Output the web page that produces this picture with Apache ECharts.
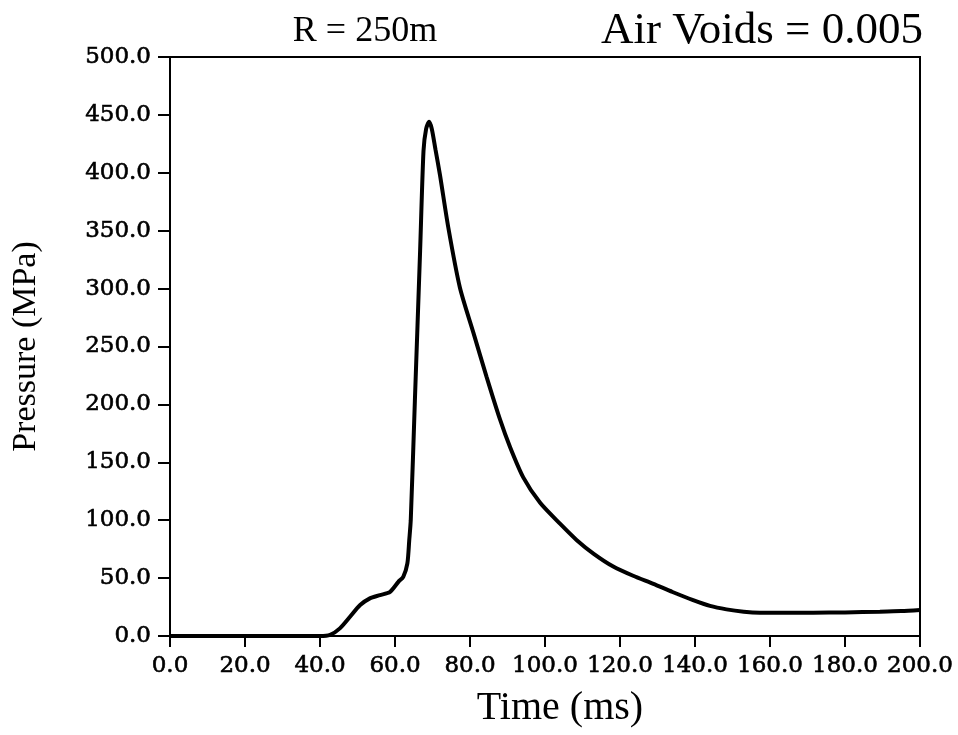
<!DOCTYPE html>
<html>
<head>
<meta charset="utf-8">
<script src="https://cdn.jsdelivr.net/npm/echarts@6/dist/echarts.min.js"></script>
<style>
html,body{margin:0;padding:0;background:#fff;}
#chart{width:958px;height:735px;}
</style>
</head>
<body>
<div id="chart"></div>
<script>
const timeMs = [0,10,20,30,40,42.7,45.3,48,50.7,53.3,56,58.7,60.9,62.2,63.3,63.8,64.2,65.3,66.7,67.6,68.3,69.1,69.8,70.8,72,74.2,77.3,80.9,84.4,88,90.7,94.2,98.7,104,108.4,113,118.2,123.5,128.9,134,139.5,144,148.4,153,157.3,165,171.5,180,189.3,195,200];
const pressureMPa = [0,0,0,0,0,1,6.6,16.6,26.7,32.5,35.3,38.2,46.8,51.1,62.7,82.8,100,203,333,419,438,444,438,420,398,353,301,262,224,187,163,137,115,97,83,71,60,52,45,38,31,26,23,21,20.1,20,20.1,20.4,21,21.5,22.4];
const titleLeft = 'R = 250m';
const titleRight = 'Air Voids = 0.005';
const xTitle = 'Time (ms)';
const yTitle = 'Pressure (MPa)';

const tfont = 'Liberation Serif';
const lfont = 'DejaVu Serif';
const chart = echarts.init(document.getElementById('chart'), null, {renderer:'canvas'});
chart.setOption({
  animation:false,
  backgroundColor:'#fff',
  title:[
    {text:titleLeft, left:360, top:9, textAlign:'center',
     textStyle:{fontFamily:tfont, fontSize:36, fontWeight:'normal', color:'#000'}},
    {text:titleRight, right:30, top:4,
     textStyle:{fontFamily:tfont, fontSize:45, fontWeight:'normal', color:'#000'}}
  ],
  grid:{left:170, right:38, top:57, bottom:99, show:true, borderColor:'#000', borderWidth:2, backgroundColor:'transparent'},
  xAxis:{
    type:'value', min:0, max:200, interval:20,
    name:xTitle, nameLocation:'middle', nameGap:52,
    nameTextStyle:{fontFamily:tfont, fontSize:40, color:'#000', padding:[0,0,0,30]},
    axisLine:{show:true, lineStyle:{color:'#000', width:2}},
    axisTick:{show:true, inside:false, length:11, lineStyle:{color:'#000', width:2}},
    axisLabel:{fontFamily:lfont, fontSize:23, color:'#000', margin:19,
      textBorderColor:'#000', textBorderWidth:0.6,
      formatter:v=>v.toFixed(1)},
    splitLine:{show:false}
  },
  yAxis:{
    type:'value', min:0, max:500, interval:50,
    name:yTitle, nameLocation:'middle', nameGap:127, nameRotate:90,
    nameTextStyle:{fontFamily:tfont, fontSize:34, color:'#000'},
    axisLine:{show:true, lineStyle:{color:'#000', width:2}},
    axisTick:{show:true, inside:false, length:12, lineStyle:{color:'#000', width:2}},
    axisLabel:{fontFamily:lfont, fontSize:23, color:'#000', margin:19,
      textBorderColor:'#000', textBorderWidth:0.6,
      formatter:v=>v.toFixed(1)},
    splitLine:{show:false}
  },
  series:[{
    type:'line',
    data:timeMs.map((t,i)=>[t,pressureMPa[i]]),
    showSymbol:false,
    smooth:0.25,
    lineStyle:{color:'#000', width:4},
    clip:true
  }]
});
</script>
</body>
</html>
